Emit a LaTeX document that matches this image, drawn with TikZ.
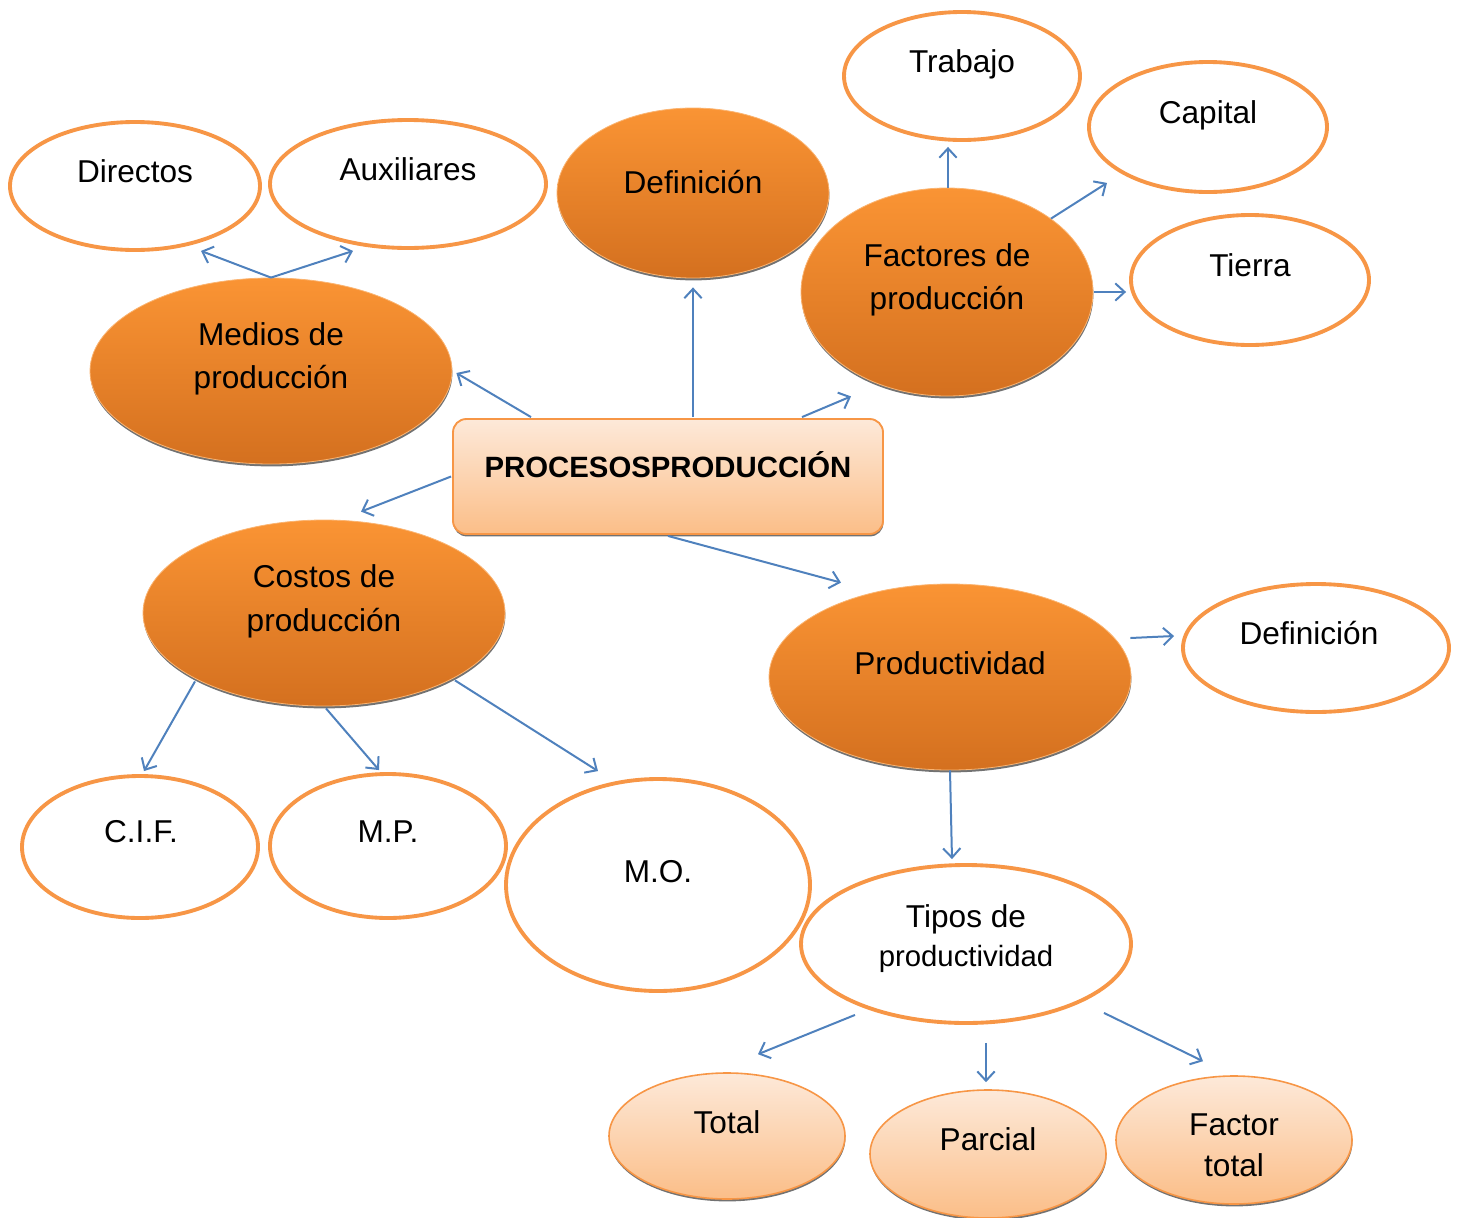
\documentclass[tikz,border=0pt]{standalone}
\usepackage{fontspec}
\setmainfont{Liberation Sans}
\usetikzlibrary{shapes.geometric,arrows.meta,calc,shadows}
\definecolor{ob}{HTML}{F79646}
\definecolor{otop}{HTML}{FA9434}
\definecolor{obot}{HTML}{D4701F}
\definecolor{ltop}{HTML}{FDE9D9}
\definecolor{lbot}{HTML}{FBBE88}
\definecolor{ab}{HTML}{4F81BD}
\tikzset{
  wh/.style={ellipse, draw=ob, line width=2.9pt, fill=white, inner sep=0pt},
  og/.style={ellipse, draw=otop!70!white, line width=0.6pt, top color=otop, bottom color=obot, inner sep=0pt,
    drop shadow={shadow xshift=0.3pt, shadow yshift=-1.8pt, fill=black!65, opacity=0.85}},
  lt/.style={ellipse, draw=ob, line width=1.2pt, top color=ltop, bottom color=lbot, inner sep=0pt,
    drop shadow={shadow xshift=0.3pt, shadow yshift=-1.8pt, fill=black!65, opacity=0.85}},
  txt/.style={font=\fontsize{23.7}{32.5}\selectfont, align=center, inner sep=0pt},
  arr/.style={draw=ab, line width=1.5pt, -{Straight Barb[length=7pt,width=13pt]}}
}
\newcommand\EL[6]{\node[#1, minimum width=#4*1.5pt, minimum height=#5*1.5pt] (#2) at (#3) {};}
\begin{document}
\begin{tikzpicture}[x=0.75pt,y=-0.75pt]
\useasboundingbox (0,0) rectangle (1465,1218);
% ellipses
\EL{wh}{directos}{135,186}{125}{64}{}
\EL{wh}{auxiliares}{408,184}{138}{64}{}
\EL{og}{def1}{693,193}{136}{85}{}
\EL{wh}{trabajo}{962,76}{118}{64}{}
\EL{wh}{capital}{1208,127}{119}{65}{}
\EL{og}{factores}{947,292}{146}{104}{}
\EL{wh}{tierra}{1250,280}{119}{65}{}
\EL{og}{medios}{271,371}{181}{93}{}
\node[draw=ob, line width=1.4pt, rounded corners=10pt, top color=ltop, bottom color=lbot,
  minimum width=322.5pt, minimum height=86.25pt, inner sep=0pt,
  drop shadow={shadow xshift=0.3pt, shadow yshift=-1.8pt, fill=black!65, opacity=0.85}] (proc) at (668,476.5) {};
\EL{og}{costos}{324,613}{181}{93}{}
\EL{og}{prod}{950,677}{181}{93}{}
\EL{wh}{def2}{1316,648}{133}{64}{}
\EL{wh}{cif}{140,847}{118}{71}{}
\EL{wh}{mp}{388,846}{118}{72}{}
\EL{wh}{mo}{658,885}{152}{106}{}
\EL{wh}{tipos}{966,944}{165}{79}{}
\EL{lt}{total}{727,1136}{118}{63}{}
\EL{lt}{parcial}{988,1154}{118}{64}{}
\EL{lt}{ftotal}{1234,1140}{118}{64}{}
% texts
\node[txt] (directos-t) at (135,171) {Directos};
\node[txt] (auxiliares-t) at (408,169) {Auxiliares};
\node[txt] (def1-t) at (693,182) {Definición};
\node[txt] (trabajo-t) at (962,64) {Trabajo};
\node[txt] (capital-t) at (1208,115) {Capital};
\node[txt] (factores-t) at (947,280) {Factores de\\producción};
\node[txt] (tierra-t) at (1250,265) {Tierra};
\node[txt] (medios-t) at (271,359) {Medios de\\producción};
\node[txt, font=\fontsize{22}{26}\selectfont\bfseries] (proc-t) at (668,465) {PROCESOSPRODUCCIÓN};
\node[txt, font=\fontsize{23.7}{33}\selectfont] (costos-t) at (324,601) {Costos de\\producción};
\node[txt] (prod-t) at (950,663) {Productividad};
\node[txt] (def2-t) at (1309,633) {Definición};
\node[txt] (cif-t) at (141,832) {C.I.F.};
\node[txt] (mp-t) at (388,832) {M.P.};
\node[txt] (mo-t) at (658,872) {M.O.};
\node[txt] (tipos-t1) at (966,919) {Tipos de};
\node[txt, font=\fontsize{22}{26}\selectfont] (tipos-t2) at (966,959) {productividad};
\node[txt] (total-t) at (727,1122) {Total};
\node[txt] (parcial-t) at (988,1139) {Parcial};
\node[txt, font=\fontsize{23.7}{31}\selectfont] (ftotal-t) at (1234,1145) {Factor\\total};
% arrows
\draw[arr] (medios.north) -- ($(directos.south)+(66,-1)$);
\draw[arr] (medios.north) -- ($(auxiliares.south)+(-55,1)$);
\draw[arr] ($(proc.north)+(-137,-1)$) -- ($(medios.east)+(4,2)$);
\draw[arr] ($(proc.north)+(25,-1)$) -- ($(def1.south)+(0,9)$);
\draw[arr] ($(proc.north)+(134,-1)$) -- ($(factores.south)+(-96,0)$);
\draw[arr] ($(factores.north)+(1,0)$) -- ($(trabajo.south)+(-14,5)$);
\draw[arr] ($(factores.north)+(104,31)$) -- ($(capital.south)+(-101,-11)$);
\draw[arr] ($(factores.east)+(1,0)$) -- ($(tierra.west)+(-3,12)$);
\draw[arr] ($(proc.west)+(-1,0)$) -- ($(costos.north)+(37,-8)$);
\draw[arr] ($(proc.south)+(0,1)$) -- ($(prod.north)+(-109,-1)$);
\draw[arr] ($(costos.south)+(-129,-25)$) -- ($(cif.north)+(4,-3)$);
\draw[arr] ($(costos.south)+(2,2)$) -- ($(mp.north)+(-9,-2)$);
\draw[arr] ($(costos.south)+(131,-26)$) -- ($(mo.north)+(-60,-6)$);
\draw[arr] ($(prod.east)+(-1,-39)$) -- ($(def2.west)+(-7,-12)$);
\draw[arr] (prod.south) -- ($(tipos.north)+(-14,-4)$);
\draw[arr] ($(tipos.south)+(-111,-10)$) -- ($(total.north)+(31,-18)$);
\draw[arr] ($(tipos.south)+(20,18)$) -- ($(parcial.north)+(-2,-7)$);
\draw[arr] ($(tipos.south)+(138,-12)$) -- ($(ftotal.north)+(-31,-14)$);
\end{tikzpicture}
\end{document}
